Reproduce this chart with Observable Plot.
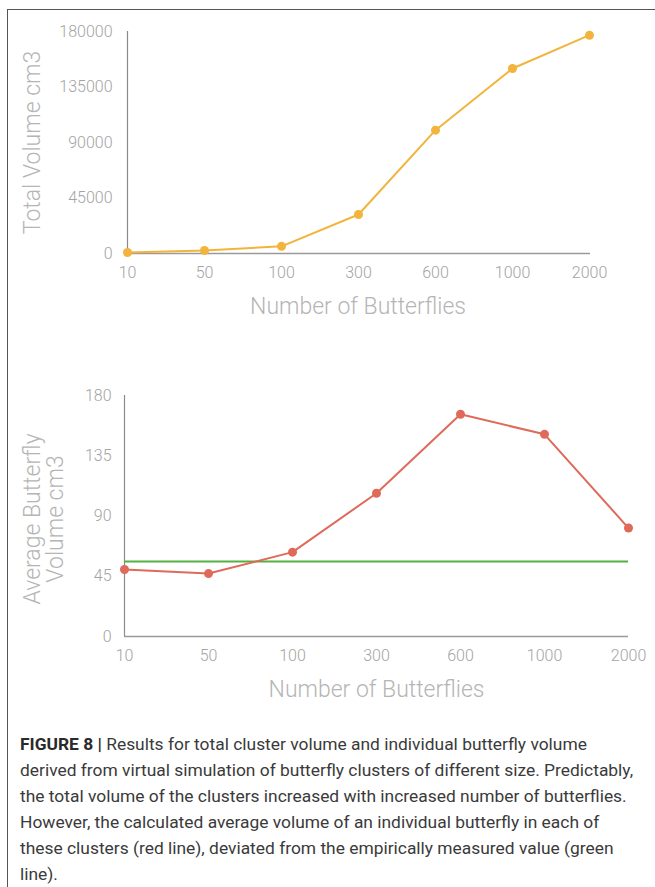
<!DOCTYPE html>
<html>
<head>
<meta charset="utf-8">
<script src="https://cdn.jsdelivr.net/npm/d3@7"></script>
<script src="https://cdn.jsdelivr.net/npm/@observablehq/plot@0.6"></script>
<style>
  html, body { margin: 0; padding: 0; background: #fff; }
  #page { position: relative; width: 655px; height: 887px; overflow: hidden; }
  #frame { position: absolute; left: 7px; top: 9px; width: 660px; height: 900px;
           border-top: 1.5px solid #555; border-left: 1.5px solid #555; box-sizing: border-box; }
  #top { position: absolute; left: 0; top: 0; }
  #bottom { position: absolute; left: 0; top: 340px; }
  #caption { position: absolute; left: 20px; top: 731px; font-family: "Roboto", "Liberation Sans", sans-serif;
             font-size: 17.4px; line-height: 26px; color: #3a3a3a; white-space: nowrap; }
  #caption b { color: #2a2a2a; }
  svg { background: transparent !important; }
  svg text { font-family: "Roboto", "Liberation Sans", sans-serif; }
</style>
</head>
<body>
<div id="page">
  <div id="frame"></div>
  <div id="top"></div>
  <div id="bottom"></div>
  <div id="caption"></div>
</div>
<script>
const categories = ["10", "50", "100", "300", "600", "1000", "2000"];
const totalVolume = [800, 2400, 5800, 31600, 100000, 150000, 177000];
const avgVolume = [50, 47, 63, 107, 166, 151, 81];
const measuredVolume = 56;
const totalTicks = [0, 45000, 90000, 135000, 180000];
const avgTicks = [0, 45, 90, 135, 180];
const xTitle = "Number of Butterflies";
const topYTitle = "Total Volume cm3";
const bottomYTitle = "Average Butterfly\nVolume cm3";
const captionBold = "FIGURE 8 |";
const captionLines = [
  " Results for total cluster volume and individual butterfly volume",
  "derived from virtual simulation of butterfly clusters of different size. Predictably,",
  "the total volume of the clusters increased with increased number of butterflies.",
  "However, the calculated average volume of an individual butterfly in each of",
  "these clusters (red line), deviated from the empirically measured value (green",
  "line)."
];

const topData = categories.map((c, i) => ({ c, v: totalVolume[i] }));
const botData = categories.map((c, i) => ({ c, v: avgVolume[i] }));

const tickColor = "#a3a3a3";
const titleColor = "#b5b5b5";

const topPlot = Plot.plot({
  width: 655, height: 330,
  marginTop: 31, marginBottom: 77, marginLeft: 125, marginRight: 65,
  x: { type: "point", domain: categories, padding: 0 },
  y: { domain: [0, 180000] },
  marks: [
    Plot.axisY({ ticks: totalTicks, tickSize: 0, tickPadding: 13, fontSize: 16, fontWeight: 300, fill: tickColor, tickFormat: d => String(d), label: null }),
    Plot.axisX({ tickSize: 0, tickPadding: 13, fontSize: 16, fontWeight: 300, fill: tickColor, label: null }),
    Plot.ruleX([categories[0]], { stroke: "#8a8a8a", strokeWidth: 1.2 }),
    Plot.ruleY([0], { stroke: "#9a9a9a", strokeWidth: 1.5 }),
    Plot.line(topData, { x: "c", y: "v", stroke: "#F2B43C", strokeWidth: 2 }),
    Plot.dot(topData, { x: "c", y: "v", fill: "#F2B43C", r: 4.5 }),
    Plot.text([xTitle], { frameAnchor: "bottom", lineAnchor: "middle", dy: 53, fontSize: 23, fontWeight: 300, fill: titleColor }),
    Plot.text([topYTitle], { frameAnchor: "left", textAnchor: "middle", lineAnchor: "middle", dx: -93, dy: 0, rotate: -90, fontSize: 23, fontWeight: 300, fill: titleColor })
  ]
});
document.getElementById("top").appendChild(topPlot);

const botPlot = Plot.plot({
  width: 655, height: 385,
  marginTop: 55, marginBottom: 89, marginLeft: 124, marginRight: 27,
  x: { type: "point", domain: categories, padding: 0 },
  y: { domain: [0, 180] },
  marks: [
    Plot.axisY({ ticks: avgTicks, tickSize: 0, tickPadding: 13, fontSize: 16, fontWeight: 300, fill: tickColor, label: null }),
    Plot.axisX({ tickSize: 0, tickPadding: 13, fontSize: 16, fontWeight: 300, fill: tickColor, label: null }),
    Plot.ruleX([categories[0]], { stroke: "#8a8a8a", strokeWidth: 1.2 }),
    Plot.ruleY([0], { stroke: "#9a9a9a", strokeWidth: 1.5 }),
    Plot.ruleY([measuredVolume], { stroke: "#52B141", strokeWidth: 2 }),
    Plot.line(botData, { x: "c", y: "v", stroke: "#DF6A5A", strokeWidth: 2 }),
    Plot.dot(botData, { x: "c", y: "v", fill: "#DF6A5A", r: 4.5 }),
    Plot.text([xTitle], { frameAnchor: "bottom", lineAnchor: "middle", dy: 53, fontSize: 23, fontWeight: 300, fill: titleColor }),
    Plot.text([bottomYTitle], { frameAnchor: "left", textAnchor: "middle", lineAnchor: "middle", dx: -80, dy: 3, rotate: -90, lineHeight: 1.0, fontSize: 23, fontWeight: 300, fill: titleColor })
  ]
});
document.getElementById("bottom").appendChild(botPlot);

const cap = document.getElementById("caption");
captionLines.forEach((line, i) => {
  const div = document.createElement("div");
  if (i === 0) {
    const b = document.createElement("b");
    b.textContent = captionBold;
    div.appendChild(b);
  }
  div.appendChild(document.createTextNode(line));
  cap.appendChild(div);
});
</script>
</body>
</html>
